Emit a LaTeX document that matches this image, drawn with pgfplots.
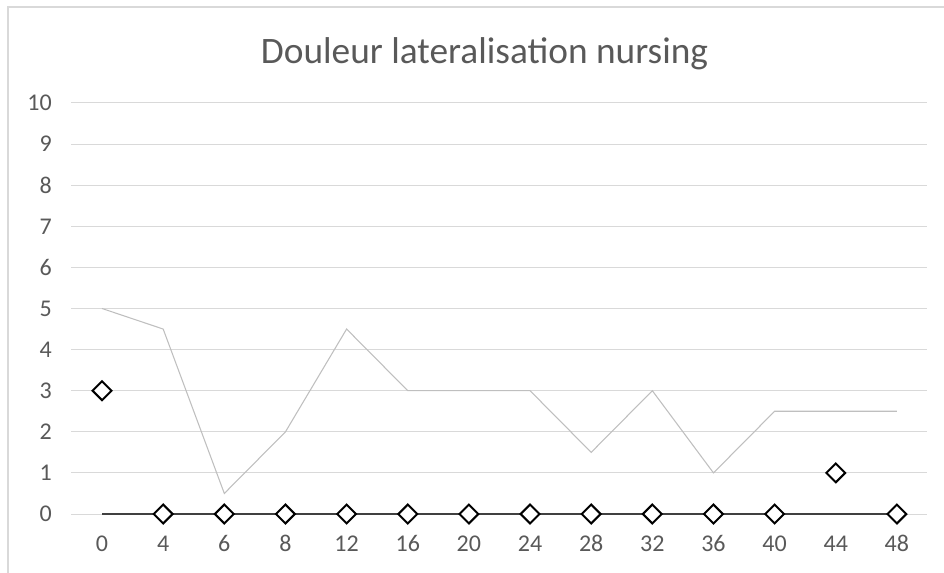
\documentclass[border=0pt]{standalone}
\usepackage{pgfplots}
\pgfplotsset{compat=1.18}
\usepackage{fontspec}
\setmainfont{Carlito}
\definecolor{txtgray}{HTML}{595959}
\definecolor{gridgray}{HTML}{D9D9D9}
\definecolor{linegray}{HTML}{BFBFBF}
\definecolor{zeroline}{HTML}{404040}
\begin{document}
\begin{tikzpicture}
\useasboundingbox (0,0) rectangle (708pt,429pt);
\draw[gridgray, line width=0.9pt] (6pt,-1pt) -- (6pt,423.75pt) -- (709pt,423.75pt);
\node[text=txtgray, font=\fontsize{28}{32}\selectfont, anchor=base, inner sep=0pt] at (363.4pt,381pt) {Douleur lateralisation nursing};
\begin{axis}[
  at={(53.6pt,43.5pt)}, anchor=south west,
  scale only axis, width=642pt, height=308.25pt,
  xmin=-0.5, xmax=13.5, ymin=0, ymax=10,
  xtick={0,...,13},
  xticklabels={0,4,6,8,12,16,20,24,28,32,36,40,44,48},
  ytick={0,...,10},
  axis line style={draw=none},
  major tick length=0pt,
  ymajorgrids,
  grid style={gridgray, line width=0.75pt},
  /pgf/number format/assume math mode=true,
  tick label style={text=txtgray, font=\fontsize{18}{21}\selectfont, inner sep=0pt},
  xticklabel style={anchor=center, yshift=-22.1pt},
  yticklabel style={anchor=east, xshift=-14.6pt},
  clip=false,
]
\addplot[linegray, line width=0.8pt, no markers] coordinates {
(0,5) (1,4.5) (2,0.5) (3,2) (4,4.5) (5,3) (6,3) (7,3) (8,1.5) (9,3) (10,1) (11,2.5) (12,2.5) (13,2.5)};
\addplot[zeroline, line width=1.1pt, no markers] coordinates {
(0,0) (1,0) (2,0) (3,0) (4,0) (5,0) (6,0) (7,0) (8,0) (9,0) (10,0) (11,0) (12,0) (13,0)};
\addplot[only marks, mark=square*, mark size=5pt, mark options={draw=black, fill=white, line width=1.5pt, rotate=45}] coordinates {
(0,3) (1,0) (2,0) (3,0) (4,0) (5,0) (6,0) (7,0) (8,0) (9,0) (10,0) (11,0) (12,1) (13,0)};
\end{axis}
\end{tikzpicture}
\end{document}
